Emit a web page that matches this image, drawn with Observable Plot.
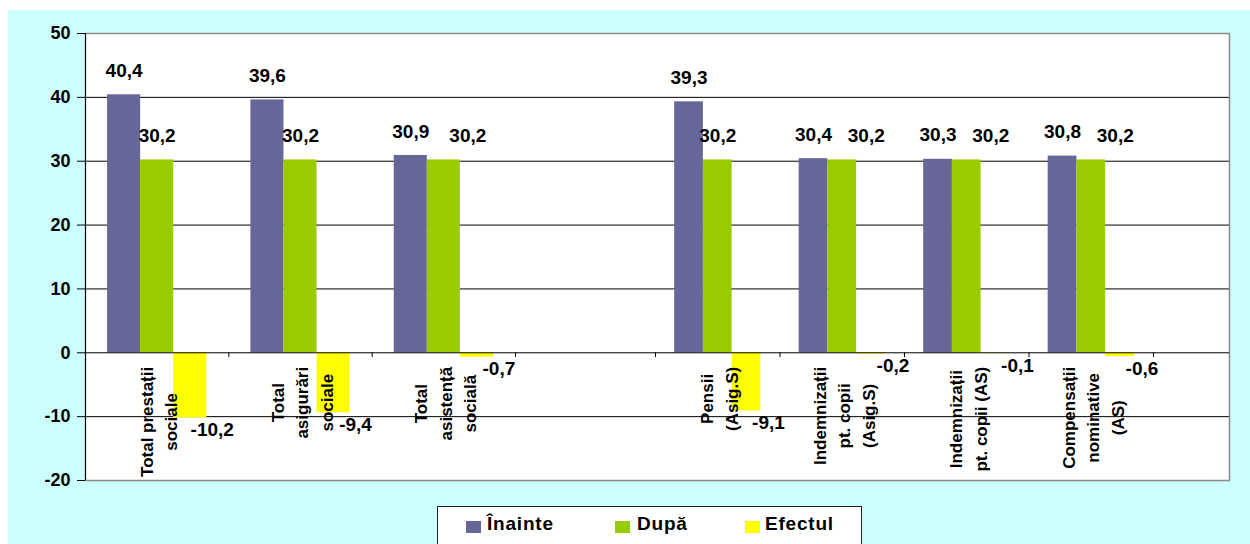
<!DOCTYPE html>
<html><head><meta charset="utf-8">
<script src="https://cdn.jsdelivr.net/npm/d3@7"></script>
<script src="https://cdn.jsdelivr.net/npm/@observablehq/plot@0.6"></script>
<style>
body{margin:0;background:#fff;width:1250px;height:544px;overflow:hidden;position:relative;font-family:"Liberation Sans",Arial,sans-serif;}
#bg{position:absolute;left:8px;top:10px;width:1242px;height:534px;background:#CCFFFF;}
#chart{position:absolute;left:0;top:0;}
#legend{position:absolute;left:437px;top:506px;width:425px;height:60px;background:#fff;border:1px solid #222;box-sizing:border-box;}
.sw{position:absolute;top:14px;width:15px;height:12px;}
.lt{position:absolute;top:5px;font-weight:bold;font-size:19px;letter-spacing:0.8px;line-height:24px;color:#000;}
</style></head>
<body>
<div id="bg"></div><div id="chart"></div><div id="legend"></div>
<script>
// ---- data ----
const categories = [
  "Total prestații\nsociale",
  "Total\nasigurări\nsociale",
  "Total\nasistență\nsocială",
  "",
  "Pensii\n(Asig.S)",
  "Indemnizații\npt. copii\n(Asig.S)",
  "Indemnizații\npt. copii (AS)",
  "Compensații\nnominative\n(AS)"
];
const seriesNames = ["Înainte", "După", "Efectul"];
const inainte = [40.4, 39.6, 30.9, null, 39.3, 30.4, 30.3, 30.8];
const dupa    = [30.2, 30.2, 30.2, null, 30.2, 30.2, 30.2, 30.2];
const efectul = [-10.2, -9.4, -0.7, null, -9.1, -0.2, -0.1, -0.6];
const yTicks = [-20, -10, 0, 10, 20, 30, 40, 50];
const gridLines = [-10, 10, 20, 30, 40];

// ---- styling ----
const colors = ["#666699", "#99CC00", "#FFFF00"];
const font = '"Liberation Sans", Arial, sans-serif';
const fmt = v => v.toFixed(1).replace(".", ",");

const series = [inainte, dupa, efectul];
const start = 0.154, bw = 0.692 / 3;
const rows = [];
categories.forEach((c, i) => {
  series.forEach((arr, k) => {
    if (arr[i] != null) rows.push({slot: i, k, value: arr[i], before: inainte[i], after: dupa[i]});
  });
});
const x1 = d => d.slot + start + d.k * bw;
const x2 = d => d.slot + start + (d.k + 1) * bw;
const xc = d => d.slot + start + (d.k + 0.5) * bw;

// measure category label widths to center each label block like Excel does
const ctx = document.createElement("canvas").getContext("2d");
ctx.font = `bold 17px ${font}`;

const catMarks = categories.map((c, i) => {
  if (!c) return null;
  const w = d3.max(c.split("\n"), s => ctx.measureText(s).width);
  return Plot.text([c], {
    x: () => i + 0.5, y: () => 0, text: d => d,
    rotate: -90, textAnchor: "middle", lineAnchor: "middle", lineHeight: 1.45,
    dy: 14 + w / 2, fontSize: 17, fontWeight: "bold", fill: "#000"
  });
}).filter(Boolean);

const pos = rows.filter(d => d.value > 0);
const neg = rows.filter(d => d.value < 0);
const shifted = d => d.k === 1 && d.before - d.after < 2;
const valStyle = {fontSize: 19, fontWeight: "bold", fill: "#000"};

const chart = Plot.plot({
  width: 1250, height: 500,
  marginLeft: 85, marginRight: 21, marginTop: 33, marginBottom: 20,
  style: {fontFamily: font, background: "transparent", overflow: "visible"},
  x: {type: "linear", domain: [0, 3, 4, 8, 8.61], range: [85, 515, 655, 1153, 1229], axis: null},
  y: {domain: [-20, 50], axis: null},
  marks: [
    Plot.frame({fill: "white", stroke: null}),
    Plot.ruleY(gridLines, {stroke: "#000", strokeWidth: 1}),
    ...series.map((arr, k) => Plot.rectY(rows.filter(d => d.k === k), {
      x1, x2, y1: 0, y2: "value", fill: colors[k], inset: 0
    })),
    Plot.frame({stroke: "#888", strokeWidth: 1.5}),
    Plot.ruleY([0], {stroke: "#000"}),
    Plot.ruleX([0], {stroke: "#000"}),
    Plot.ruleX(d3.range(1, categories.length + 1), {y1: 0, y2: -0.75, stroke: "#000"}),
    Plot.axisY({ticks: yTicks, tickSize: 8, tickPadding: 7, tickFormat: d => d, fontSize: 18, fontWeight: "bold", fill: "#000", stroke: "#000", label: null}),
    ...catMarks,
    Plot.text(pos.filter(d => !shifted(d)), {
      x: xc, y: "value", text: d => fmt(d.value), dy: -24, ...valStyle
    }),
    Plot.text(pos.filter(shifted), {
      x: xc, y: "value", text: d => fmt(d.value), dx: 24, dy: -24, ...valStyle
    }),
    Plot.text(neg, {
      x: xc, y: "value", text: d => fmt(d.value), dx: 22, dy: 12, ...valStyle
    })
  ]
});
document.getElementById("chart").append(chart);

// legend
const legend = document.getElementById("legend");
const swX = [28, 177, 307], txX = [49, 199, 327];
seriesNames.forEach((n, k) => {
  const s = document.createElement("div");
  s.className = "sw"; s.style.left = swX[k] + "px"; s.style.background = colors[k];
  const t = document.createElement("div");
  t.className = "lt"; t.style.left = txX[k] + "px"; t.textContent = n;
  legend.append(s, t);
});
</script>
</body></html>
